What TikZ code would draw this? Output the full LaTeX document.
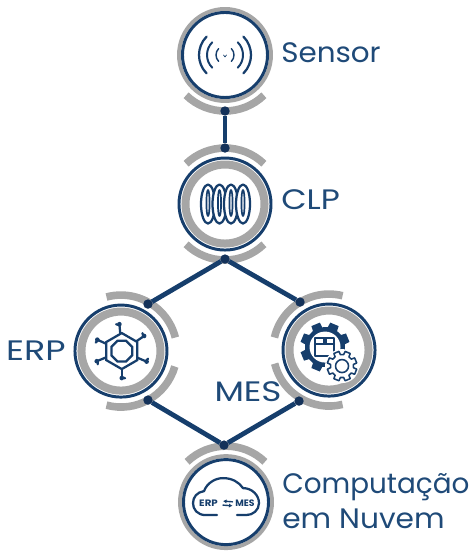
\documentclass[tikz,border=0pt]{standalone}
\usepackage{fontspec}
\setmainfont{Poppins}
\usetikzlibrary{positioning,shapes.geometric,arrows.meta}
\definecolor{navy}{HTML}{163E6C}
\definecolor{dotnavy}{HTML}{14325A}
\definecolor{ringgray}{HTML}{A6A6A6}
\definecolor{textblue}{HTML}{1F4A78}
% gear outline: radius at the root, radius at the tip
\newcommand{\gearpath}[2]{(-6:#1) \foreach \a in {0,45,...,315} { -- (\a-6:#1) -- (\a+8:#1) -- (\a+12:#2) -- (\a+33:#2) -- (\a+37:#1)} -- cycle}
% stretched label text
\newcommand{\wide}[2]{{\addfontfeature{FakeStretch=#1}#2}}
\begin{document}
\begin{tikzpicture}[
    x=0.025cm, y=0.025cm,
    node distance=1cm,
    ringthin/.style={circle, draw=ringgray, fill=white, line width=2.8pt, minimum size=2.3cm, inner sep=0pt, outer sep=0pt},
    ringnavy/.style={circle, draw=navy, line width=2.1pt, minimum size=2.125cm, inner sep=0pt, outer sep=0pt},
    station/.style={circle, draw=navy, fill=white, line width=2.1pt, minimum size=2.3cm, inner sep=0pt, outer sep=0pt},
    ringthick/.style={circle, draw=ringgray, line width=5.7pt, minimum size=1.975cm, inner sep=0pt, outer sep=0pt},
    band/.style={draw=ringgray, line width=5.4pt},
    dotnode/.style={circle, fill=dotnavy, minimum size=0.235cm, inner sep=0pt, outer sep=0pt},
    link/.style={draw=navy, line width=3.4pt},
    tag/.style={text=textblue, font=\fontsize{20}{24.3}\selectfont, inner sep=0pt, align=left},
    icon/.style={draw=navy, line width=1.6pt, line cap=round, line join=round},
    cloudtext/.style={text=navy, font=\fontsize{6.6}{7}\selectfont\bfseries, inner sep=0pt}
]
\useasboundingbox (0,0) rectangle (473,551);

% Stations
\node[ringthin] (sensor) at (225,496) {};
\node[station, below of=sensor, node distance=3.725cm] (clp) {};
\node[station, below of=clp, node distance=3.675cm, xshift=-2.6cm] (erp) {};
\node[station, below of=clp, node distance=3.65cm, xshift=2.6cm] (mes) {};
\node[ringthin, below of=clp, node distance=7.45cm, xshift=0.025cm] (cloud) {};
\node[ringnavy] at (sensor) {};
\node[ringnavy] at (cloud) {};
\node[ringthick] at (clp) {};
\node[ringthick] at (erp) {};
\node[ringthick] at (mes) {};

% Gray bands
\draw[band] (sensor.center) ++(226:56) arc[start angle=226, end angle=314, radius=56];
\draw[band] (clp.center) ++(46:56) arc[start angle=46, end angle=134, radius=56];
\draw[band] (clp.center) ++(226:56) arc[start angle=226, end angle=314, radius=56];
\draw[band] (erp.center) ++(105:56) arc[start angle=105, end angle=14, radius=56];
\draw[band] (erp.center) ++(-105:56) arc[start angle=-105, end angle=-16, radius=56];
\draw[band] (mes.center) ++(76:56) arc[start angle=76, end angle=167, radius=56];
\draw[band] (mes.center) ++(194:56) arc[start angle=194, end angle=284, radius=56];
\draw[band] (cloud.center) ++(46:56) arc[start angle=46, end angle=134, radius=56];

% Connection points
\node[dotnode, below of=sensor, node distance=1.4cm] (sensor-out) {};
\node[dotnode, above of=clp, node distance=1.4cm] (clp-in) {};
\node[dotnode, below of=clp, node distance=1.375cm] (clp-out) {};
\node[dotnode, above of=erp, node distance=1.175cm, xshift=0.675cm] (erp-in) {};
\node[dotnode, above of=mes, node distance=1.2cm, xshift=-0.725cm] (mes-in) {};
\node[dotnode, below of=erp, node distance=1.225cm, xshift=0.675cm] (erp-out) {};
\node[dotnode, below of=mes, node distance=1.275cm, xshift=-0.75cm] (mes-out) {};
\node[dotnode, above of=cloud, node distance=1.425cm, xshift=-0.05cm] (cloud-in) {};

% Links
\draw[link] (sensor-out) -- (clp-in);
\draw[link] (clp-out) -- (erp-in);
\draw[link] (clp-out) -- (mes-in);
\draw[link] (erp-out) -- (cloud-in);
\draw[link] (mes-out) -- (cloud-in);

% Labels
\node[tag, right=0.25cm of sensor, yshift=0.05cm] (sensor-label) {\wide{1.045}{Sensor}};
\node[tag, right=0.25cm of clp, yshift=0.1cm] (clp-label) {\wide{1.17}{CLP}};
\node[tag, left=0.225cm of erp] (erp-label) {\wide{1.245}{ERP}};
\node[tag, below of=mes, node distance=1.05cm, xshift=-2.025cm] (mes-label) {\wide{1.215}{MES}};
\node[tag, right=0.25cm of cloud, yshift=0.025cm] (cloud-label) {\wide{0.99}{Computação}\\\wide{1.055}{em Nuvem}};

% Sensor icon
\begin{scope}[shift={(sensor.center)}]
  \foreach \r/\w in {9/1pt, 18/1.4pt, 26/1.6pt} {
    \draw[icon, line width=\w] (-45:\r) arc[start angle=-45, end angle=45, radius=\r];
    \draw[icon, line width=\w] (135:\r) arc[start angle=135, end angle=225, radius=\r];
  }
  \draw[icon, line width=0.5pt] (-1.5,0) -- (0,-2) -- (1.5,0);
\end{scope}

% CLP icon
\begin{scope}[shift={(clp.center)}, xshift=0.0125cm]
  \foreach \x in {-17.5,-6,5.5,17.5} {
    \draw[icon, fill=white] (\x,0) ellipse [x radius=7, y radius=19.5];
    \draw[icon, line width=1.2pt] (\x,1) ellipse [x radius=1.6, y radius=13];
  }
\end{scope}

% ERP icon
\begin{scope}[shift={(erp.center)}, xshift=0.02cm]
  \foreach \a in {95,34,-23,-90,202,155} {
    \draw[icon] (\a:14) -- (\a:26);
    \draw[icon] (\a:26) -- ++(\a+70:3.5);
    \fill[navy] (\a:27) circle (2.3);
  }
  \node[regular polygon, regular polygon sides=6, shape border rotate=30, draw=navy, line width=1.6pt, fill=white, minimum size=0.9cm, inner sep=0pt] (erp-hex) {};
  \node[regular polygon, regular polygon sides=8, draw=navy, line width=1.6pt, fill=white, minimum size=0.56cm, inner sep=0pt] (erp-core) {};
\end{scope}

% MES icon
\begin{scope}[shift={(mes.center)}, xshift=-0.1cm, yshift=0.075cm]
  \fill[navy] \gearpath{20}{25};
  \fill[white] (0,0) circle (15.5);
  \draw[icon] (-10,-9) rectangle (9,9);
  \draw[icon] (-10,3) -- (9,3);
  \fill[navy] (-2,3) rectangle (1.5,9);
\end{scope}
\begin{scope}[shift={(mes.center)}, xshift=0.325cm, yshift=-0.4cm]
  \fill[white] (0,0) circle (17);
  \draw[icon, line width=1.1pt, fill=white] \gearpath{11.5}{15};
  \draw[icon, line width=1.1pt] (0,0) circle (6.5);
\end{scope}

% Cloud icon
\begin{scope}[shift={(cloud.center)}]
  \draw[icon] (-9,-13) -- (-20,-13) .. controls (-29,-13) and (-33,-7) .. (-33,-1)
    .. controls (-33,5) and (-29,10) .. (-22,11)
    .. controls (-19,19) and (-11,24) .. (-3,24)
    .. controls (6,24) and (13,20) .. (17,14)
    .. controls (26,14) and (33,7) .. (33,-1)
    .. controls (33,-8) and (27,-13) .. (20,-13) -- (11,-13);
  \node[cloudtext] (cloud-erp) at (-17.5,-1) {\wide{1.1}{ERP}};
  \node[cloudtext] (cloud-mes) at (19,-1) {\wide{1}{MES}};
  \draw[icon, line width=1pt, -{Latex[length=2.5pt,width=3pt]}] (6.5,0.3) -- (-3,1);
  \draw[icon, line width=1pt, -{Latex[length=2.5pt,width=3pt]}] (-3,-3) -- (6.5,-3.7);
\end{scope}
\end{tikzpicture}
\end{document}
